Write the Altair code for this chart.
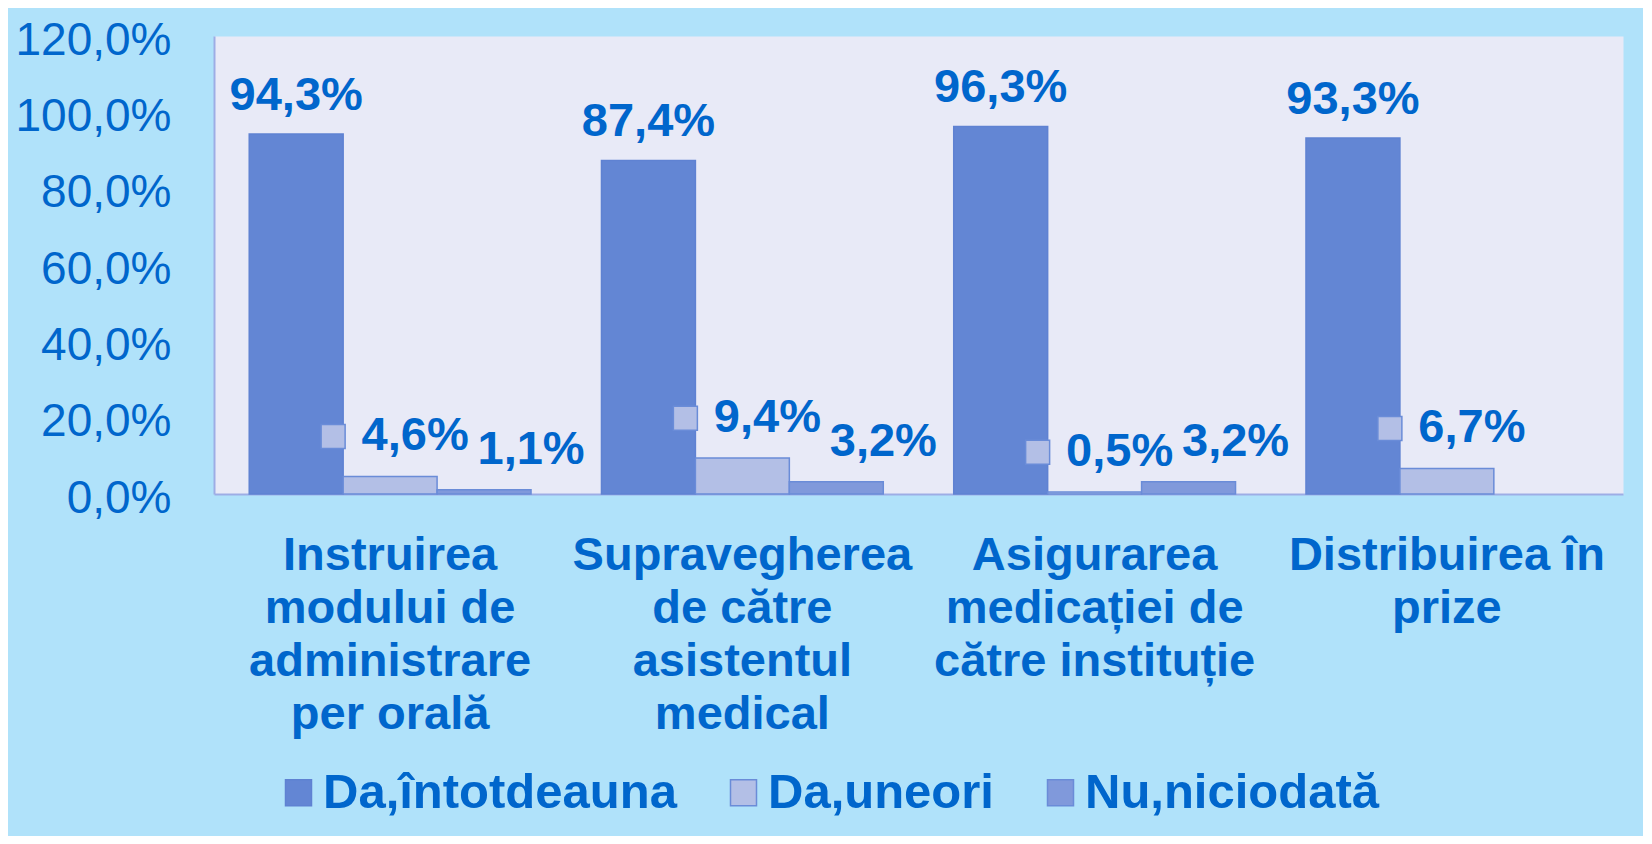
import altair as alt
import pandas as pd

categories = [
    "Instruirea\nmodului de\nadministrare\nper orală",
    "Supravegherea\nde către\nasistentul\nmedical",
    "Asigurarea\nmedicației de\ncătre instituție",
    "Distribuirea în\nprize",
]
series = ["Da,întotdeauna", "Da,uneori", "Nu,niciodată"]
da_intotdeauna = [94.3, 87.4, 96.3, 93.3]
da_uneori = [4.6, 9.4, 0.5, 6.7]
nu_niciodata = [1.1, 3.2, 3.2, None]

fill_colors = ["#6386D4", "#B3BFE6", "#8099DB"]
stroke_colors = ["#5F82D2", "#6A8CD8", "#6A8CD8"]
TEXT = "#0066CC"
FONT = "Liberation Sans"

rows = []
for s, vals in zip(series, [da_intotdeauna, da_uneori, nu_niciodata]):
    for c, v in zip(categories, vals):
        if v is None:
            continue
        rows.append({"cat": c, "series": s, "value": v,
                     "label": f"{v:.1f}%".replace(".", ",")})
df = pd.DataFrame(rows)

x = alt.X("cat:N", sort=categories, title=None,
          scale=alt.Scale(paddingInner=0.2, paddingOuter=0.1),
          axis=alt.Axis(labelExpr="split(datum.label, '\\n')", labelAngle=0,
                        labelFontSize=47, labelFontWeight="bold", labelColor=TEXT,
                        labelFont=FONT, labelLineHeight=53, labelPadding=38,
                        labelLimit=600, ticks=False, domainColor="#9DADE5",
                        domainWidth=2, labelBaseline="top"))
y = alt.Y("value:Q", title=None,
          scale=alt.Scale(domain=[0, 120], nice=False),
          axis=alt.Axis(values=[0, 20, 40, 60, 80, 100, 120],
                        labelExpr="replace(format(datum.value, '.1f'), '.', ',') + '%'",
                        labelFontSize=46, labelColor=TEXT, labelFont=FONT,
                        labelPadding=43, labelOffset=4, ticks=False, grid=False,
                        domainColor="#9DADE5", domainWidth=2))
xoff = alt.XOffset("series:N", sort=series)

base = alt.Chart(df)

bars = base.mark_bar(strokeWidth=1.5).encode(
    x=x, y=y, xOffset=xoff,
    color=alt.Color("series:N", sort=series,
                    scale=alt.Scale(domain=series, range=fill_colors),
                    legend=alt.Legend(title=None, orient="none", direction="horizontal",
                                      legendX=60, legendY=732, symbolType="square",
                                      symbolSize=676, symbolStrokeWidth=1.5,
                                      labelFontSize=49, labelFontWeight="bold",
                                      labelColor=TEXT, labelFont=FONT, labelOffset=0,
                                      labelLimit=600, columnPadding=42)),
    stroke=alt.Stroke("series:N", sort=series,
                      scale=alt.Scale(domain=series, range=stroke_colors),
                      legend=None),
)

txt_style = dict(font=FONT, fontSize=47, fontWeight="bold", color=TEXT,
                 baseline="middle", align="center")

lab_top = base.transform_filter(alt.datum.series == series[0]).mark_text(
    dy=-38, **txt_style).encode(x=x, y=y, xOffset=xoff, text="label:N")
lab_mid = base.transform_filter(alt.datum.series == series[1]).mark_text(
    dy=-40, dx=25, **txt_style).encode(x=x, y=y, xOffset=xoff, text="label:N")
lab_low = base.transform_filter(alt.datum.series == series[2]).mark_text(
    dy=-40, dx=47, **txt_style).encode(x=x, y=y, xOffset=xoff, text="label:N")

key = base.transform_filter(alt.datum.series == series[1]).mark_point(
    shape="M-5.75,-4.33H-3.75V-2.33H-5.75Z", size=576, filled=True,
    fill="#B3BFE6", stroke="#6A8CD8", strokeWidth=1.5, opacity=1,
).encode(x=x, y=y, xOffset=xoff)

chart = alt.layer(bars, lab_top, lab_mid, lab_low, key).properties(
    width=1409, height=458,
    autosize=alt.AutoSizeParams(type="none"),
    padding={"left": 206, "top": 28, "right": 20, "bottom": 342},
    background="#B0E2FA",
).configure_view(fill="#E8EAF7", stroke="transparent")

chart.save("out.html", embed_options={"renderer": "svg", "actions": False})
